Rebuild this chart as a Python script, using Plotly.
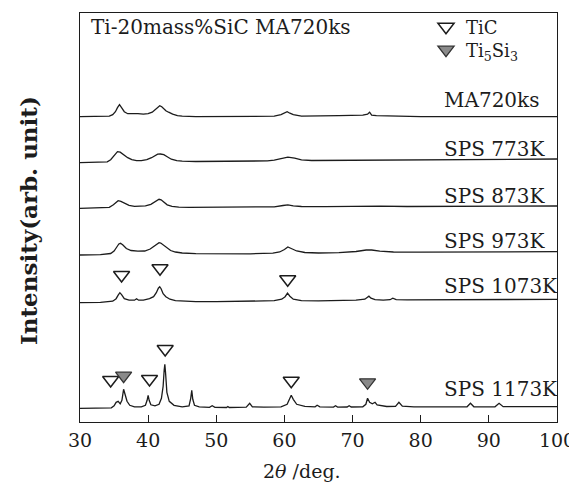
import plotly.graph_objects as go

# ---------------- data ----------------
sample_labels = ["MA720ks", "SPS 773K", "SPS 873K", "SPS 973K", "SPS 1073K", "SPS 1173K"]

ma720_x = [30, 33, 34.3, 34.8, 35.2, 35.5, 35.8, 36.1, 36.5, 37.0, 37.6, 38.1, 38.5, 39.3, 40.0, 40.6, 41.0, 41.4,
           41.7, 42.0, 42.3, 42.6, 43.0, 43.6, 44.3, 45.0, 47, 50, 55, 58.5, 59.5, 60.0, 60.4, 60.8, 61.3, 62.5, 65,
           68, 71.5, 72.2, 72.5, 72.8, 73.5, 76, 80, 85, 90, 95, 100]
ma720_y = [0, 0, 0.5, 2, 5, 9, 12, 9, 5, 3, 3, 3.5, 3, 2.5, 3, 4.5, 7, 10,
           11, 10, 8, 6, 4.5, 2.5, 1, 0.5, 0, 0, 0, 0.5, 2, 4, 5, 3.5, 2, 0.5, 0.5,
           1, 1.5, 2.5, 4.5, 1.5, 1, 0.5, 0, 0, 0, 0, 0]

sps773_x = [30, 33, 34.0, 34.5, 35.0, 35.5, 35.9, 36.4, 37.0, 37.6, 38.3, 39.0, 39.8, 40.5, 41.0, 41.4, 41.8, 42.3,
            42.8, 43.4, 44.2, 45.0, 47, 50, 55, 57.5, 58.5, 59.5, 60.5, 61.5, 62.5, 64, 67, 70, 72, 74, 78, 85, 90,
            95, 100]
sps773_y = [0, 0.2, 0.8, 3, 7.5, 11, 10.5, 8, 5, 3, 2, 2, 3, 5, 7, 8.5, 8.7, 8,
            6, 3.5, 2, 1.5, 1.2, 1.2, 1.4, 1.8, 2.6, 4, 5.5, 4.5, 2.8, 2.2, 2.3, 2.6, 3, 2.9, 3, 3.2, 3.4,
            3.6, 3.7]

sps873_x = [30, 33, 34.3, 34.9, 35.3, 35.6, 36.0, 36.5, 37.2, 38.0, 38.8, 39.6, 40.4, 40.9, 41.3, 41.6, 41.9, 42.3,
            42.8, 43.5, 44.5, 46, 50, 55, 58.5, 59.8, 60.5, 61.3, 62.5, 66, 70, 72, 74, 78, 85, 90, 100]
sps873_y = [0, 0.2, 1, 3.5, 6, 7.6, 7, 5, 3, 2, 2, 2.5, 4, 6, 8, 9, 8.5, 6,
            3.5, 2, 1.2, 1, 1, 1.2, 1.5, 2.8, 3.5, 2.5, 1.8, 1.6, 1.8, 2.6, 2.2, 1.8, 2, 2.2, 2.3]

sps973_x = [30, 33, 34.5, 35.0, 35.4, 35.7, 35.95, 36.3, 36.8, 37.5, 38.5, 39.5, 40.3, 40.9, 41.3, 41.6, 41.85, 42.2,
            42.7, 43.3, 44.0, 45.0, 47, 50, 55, 58.3, 59.3, 60.0, 60.5, 61.0, 61.8, 63, 65, 68, 70.5, 72.0, 72.8, 74,
            76, 80, 85, 90, 100]
sps973_y = [0, 0.3, 1.5, 4, 8, 11, 11.7, 10, 6.5, 4.5, 3.8, 4, 6, 9, 11.5, 12.3, 12, 10,
            7, 4.5, 3, 2, 1.3, 1, 1.2, 1.8, 3, 5.5, 8, 6.5, 4, 2.5, 2, 2.3, 3.5, 5, 5, 3.8,
            3, 2.8, 3, 3.2, 3.3]

sps1073_x = [30, 33, 34.8, 35.3, 35.6, 35.85, 36.1, 36.5, 37.2, 38.0, 38.3, 38.6, 39.3, 40.2, 40.8, 41.2, 41.5, 41.7,
             41.9, 42.2, 42.6, 43.2, 44, 45, 47, 50, 55, 58.5, 59.6, 60.1, 60.45, 60.8, 61.3, 62.5, 65, 68, 70.5,
             71.8, 72.4, 72.7, 73.3, 74.5, 75.5, 75.9, 76.4, 78, 82, 88, 95, 100]
sps1073_y = [0, 0.3, 1.5, 4, 7.5, 10, 8, 4, 2.5, 2.5, 4, 2.5, 2.5, 4, 6, 10, 14.5, 16,
             14, 9, 6, 3.5, 2, 1.5, 1, 1, 1.3, 2, 3.5, 6, 9.5, 6.5, 3.5, 2, 1.8, 2, 2.5,
             3.5, 6.5, 4.5, 3, 2.5, 3, 4.5, 3, 2.8, 3, 3.2, 3.3, 3.4]

sps1173_x = [30, 33, 34.6, 35.0, 35.3, 35.6, 35.9, 36.15, 36.4, 36.65, 36.9, 37.3, 38.0, 39.0, 39.6, 39.85, 40.0,
             40.15, 40.4, 41.0, 41.6, 41.95, 42.2, 42.35, 42.45, 42.55, 42.75, 43.1, 43.8, 45.0, 46.0, 46.25, 46.4,
             46.55, 46.8, 47.5, 49.0, 49.4, 49.8, 51.5, 51.7, 51.9, 54.4, 54.9, 55.3, 57, 59.5, 60.4, 60.75, 61.0,
             61.3, 61.8, 63, 64.5, 64.8, 65.2, 67.2, 67.5, 67.8, 69.2, 69.5, 69.8, 71.5, 71.95, 72.2, 72.5, 72.9,
             73.3, 73.6, 74.2, 75, 76.3, 76.8, 77.3, 79, 83, 86.8, 87.3, 87.8, 90.9, 91.5, 92.1, 95, 100]
sps1173_y = [0, 0, 0.5, 2.5, 6, 7, 4.5, 8, 19, 13, 7, 3, 1.5, 1.5, 3, 8, 13,
             8, 3.5, 2.5, 4, 10, 22, 38, 44, 36, 16, 7, 3, 1.5, 2.5, 10, 18,
             9, 3, 1.5, 1, 2.5, 1, 0.8, 1.8, 0.8, 1.2, 5, 1.5, 1.2, 1.5, 4, 9, 13,
             9, 4, 2, 1.5, 3, 1.5, 1.2, 2.5, 1.2, 1.3, 2.5, 1.3, 1.5, 4, 10, 6, 4.5,
             6, 3.5, 2.5, 1.8, 2, 6, 2.2, 1.5, 1.4, 1.5, 5, 1.5, 1.5, 5, 1.6, 1.6, 1.6]

# vertical stacking offsets of each pattern (arb. units)
offsets = [305.3, 259.3, 213.7, 167.0, 119.3, 13.7]

# phase markers: (pattern index, 2theta, height above that pattern's baseline)
tic_pattern = [4, 4, 4, 5, 5, 5, 5]
tic_2theta = [36.1, 41.74, 60.48, 34.5, 40.2, 42.5, 61.0]
tic_height = [27.7, 34.4, 23.4, 28.3, 29.3, 59.3, 27.6]

ti5si3_pattern = [5, 5]
ti5si3_2theta = [36.4, 72.2]
ti5si3_height = [32.6, 26.0]

x_ticks = [30, 40, 50, 60, 70, 80, 90, 100]

patterns = [(ma720_x, ma720_y), (sps773_x, sps773_y), (sps873_x, sps873_y),
            (sps973_x, sps973_y), (sps1073_x, sps1073_y), (sps1173_x, sps1173_y)]
for px, py in patterns:
    assert len(px) == len(py)

# ---------------- figure ----------------
FONT = "DejaVu Serif"
INK = "#1c1c1c"
PAGE_W, PAGE_H = 577, 492
OX, OY = 8, 8                           # default body margin of the html page
L, R, T, B = 80, 557, 13, 422           # plot-area box in page pixels
W, H = R - L, B - T
FIG_W, FIG_H = PAGE_W - OX, PAGE_H - OY


def px_x(x):
    return (x - L) / W


def px_y(y):
    return (B - y) / H


fig = go.Figure()

for (px, py), off, name in zip(patterns, offsets, sample_labels):
    fig.add_trace(go.Scatter(x=px, y=[v + off for v in py], mode="lines",
                             line=dict(color=INK, width=1.3), name=name,
                             showlegend=False, hoverinfo="skip"))

fig.add_trace(go.Scatter(
    x=tic_2theta, y=[offsets[p] + h for p, h in zip(tic_pattern, tic_height)],
    mode="markers", name="TiC", legend="legend",
    marker=dict(symbol="triangle-down-open", size=14, color=INK, line=dict(width=1.5, color=INK))))
fig.add_trace(go.Scatter(
    x=ti5si3_2theta, y=[offsets[p] + h for p, h in zip(ti5si3_pattern, ti5si3_height)],
    mode="markers", name="Ti<sub>5</sub>Si<sub>3</sub>", legend="legend2",
    marker=dict(symbol="triangle-down", size=14, color="#8a8a8a", line=dict(width=1.3, color="#333"))))

# sample labels
label_pos = [98.5, 147.5, 194, 239, 284, 387.5]   # pixel rows of label centres
for name, row in zip(sample_labels, label_pos):
    fig.add_annotation(x=px_x(442), y=px_y(row + 1.5), xref="paper", yref="paper", text=name,
                       showarrow=False, xanchor="left", yanchor="middle",
                       font=dict(family=FONT, size=20, color=INK))

fig.add_annotation(x=px_x(89), y=px_y(27), xref="paper", yref="paper",
                   text="Ti-20mass%SiC MA720ks", showarrow=False, xanchor="left", yanchor="middle",
                   font=dict(family=FONT, size=20, color=INK))
fig.add_annotation(x=px_x(28), y=px_y(221), xref="paper", yref="paper",
                   text="<b>Intensity(arb. unit)</b>", showarrow=False, textangle=-90,
                   xanchor="center", yanchor="middle", font=dict(family=FONT, size=23, color=INK))
fig.add_annotation(x=px_x(302), y=px_y(471), xref="paper", yref="paper",
                   text="2<i>θ</i> /deg.", showarrow=False, xanchor="center", yanchor="middle",
                   font=dict(family=FONT, size=19, color=INK))

legend_style = dict(xanchor="left", yanchor="middle", bgcolor="rgba(0,0,0,0)",
                    font=dict(family=FONT, size=18, color=INK), itemwidth=30, borderwidth=0)

fig.update_layout(
    width=FIG_W, height=FIG_H,
    margin=dict(l=L - OX, r=PAGE_W - R, t=T - OY, b=PAGE_H - B, autoexpand=False),
    paper_bgcolor="white", plot_bgcolor="white",
    showlegend=True,
    legend=dict(x=px_x(426), y=px_y(27), **legend_style),
    legend2=dict(x=px_x(426), y=px_y(50), **legend_style),
    xaxis=dict(range=[30, 100], tickvals=x_ticks, ticks="inside", ticklen=7, tickwidth=1.2,
               tickcolor=INK, showline=True, linecolor=INK, linewidth=1.3, mirror=True,
               showgrid=False, zeroline=False, automargin=False, ticklabelstandoff=1,
               tickfont=dict(family=FONT, size=19, color=INK)),
    yaxis=dict(range=[0, H], showticklabels=False, ticks="", showline=True, linecolor=INK,
               linewidth=1.3, mirror=True, showgrid=False, zeroline=False, automargin=False),
)

fig.write_html("out.html")
